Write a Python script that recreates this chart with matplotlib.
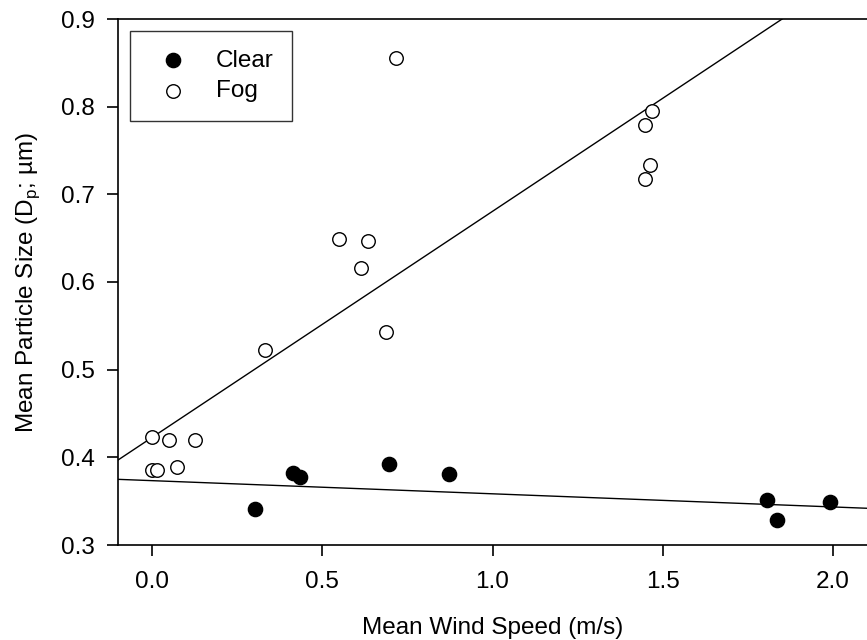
import numpy as np
import matplotlib
matplotlib.use("Agg")
import matplotlib.pyplot as plt

plt.rcParams["font.family"] = ["Liberation Sans", "DejaVu Sans"]
plt.rcParams["font.size"] = 17.5

# data
clear_x = [0.303, 0.414, 0.436, 0.696, 0.871, 1.806, 1.835, 1.990]
clear_y = [0.341, 0.382, 0.377, 0.392, 0.381, 0.351, 0.328, 0.349]
fog_x = [0.000, 0.000, 0.015, 0.050, 0.074, 0.127, 0.333, 0.548,
         0.613, 0.633, 0.686, 0.716, 1.448, 1.469, 1.448, 1.463]
fog_y = [0.423, 0.385, 0.385, 0.420, 0.389, 0.420, 0.523, 0.649,
         0.616, 0.647, 0.543, 0.856, 0.779, 0.795, 0.718, 0.734]

# regression lines (slope, intercept)
clear_fit = (-0.0150, 0.3734)
fog_fit = (0.2579, 0.4227)

xlim = (-0.1, 2.1)
ylim = (0.3, 0.9)

fig = plt.figure(figsize=(8.67, 6.4), dpi=100)
ax = fig.add_axes([118 / 867, 95 / 640, 1 - 118 / 867, (545 - 19) / 640])

xx = np.array(xlim)
ax.plot(xx, clear_fit[0] * xx + clear_fit[1], color="black", lw=1.0, zorder=1)
ax.plot(xx, fog_fit[0] * xx + fog_fit[1], color="black", lw=1.0, zorder=1)

ax.scatter(clear_x, clear_y, s=105, facecolor="black", edgecolor="black",
           linewidth=1.0, label="Clear", zorder=3)
ax.scatter(fog_x, fog_y, s=95, facecolor="white", edgecolor="black",
           linewidth=1.0, label="Fog", zorder=3)

ax.set_xlim(*xlim)
ax.set_ylim(*ylim)
ax.set_xticks([0.0, 0.5, 1.0, 1.5, 2.0])
ax.set_yticks([0.3, 0.4, 0.5, 0.6, 0.7, 0.8, 0.9])
ax.xaxis.set_major_formatter(matplotlib.ticker.FormatStrFormatter("%.1f"))
ax.yaxis.set_major_formatter(matplotlib.ticker.FormatStrFormatter("%.1f"))
ax.tick_params(direction="out", length=8, width=1.2, labelsize=17.5)
ax.tick_params(axis="x", pad=11)
ax.tick_params(axis="y", pad=9)
ax.spines["right"].set_visible(False)
for s in ["left", "bottom", "top"]:
    ax.spines[s].set_linewidth(1.2)

ax.set_xlabel("Mean Wind Speed (m/s)", fontsize=17.5, labelpad=17)
ax.set_ylabel(r"Mean Particle Size (D$_\mathregular{p}$; µm)", fontsize=17.5, labelpad=13)

leg = ax.legend(loc="upper left", bbox_to_anchor=(12 / 749, 1 - 12 / 526),
                fancybox=False, edgecolor="black", fontsize=17.5,
                borderpad=0.77, handletextpad=0.78, borderaxespad=0,
                labelspacing=0.35, handlelength=1.97)
leg.get_frame().set_linewidth(1.0)

fig.savefig("out.png", dpi=100)
